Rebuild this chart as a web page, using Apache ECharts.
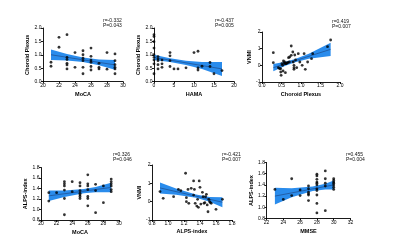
<!DOCTYPE html>
<html>
<head>
<meta charset="utf-8">
<script src="https://cdn.jsdelivr.net/npm/echarts@6/dist/echarts.min.js"></script>
<style>
  html, body { margin: 0; padding: 0; background: #fff; }
  #chart { width: 400px; height: 249px; }
</style>
</head>
<body>
<div id="chart"></div>
<script>
// ---- panel 1: MoCA / Choroid Plexus ----
var p1X = [21,21,22,22,23,23,23,23,23,23,24,24,25,25,25,25,25,25,26,26,26,26,26,26,27,27,27,28,28,29,29,29,29,29,29];
var p1Y = [0.72,0.57,1.65,1.28,1.75,0.9,0.82,0.68,0.62,0.47,1.08,0.53,1.15,1.0,0.87,0.78,0.53,0.29,1.25,0.94,0.8,0.72,0.56,0.43,0.68,0.53,0.47,1.08,0.46,1.03,0.78,0.63,0.53,0.47,0.29];
var p1BandX = [21,23,25,27,29];
var p1BandLow = [0.80,0.785,0.725,0.605,0.44];
var p1BandHigh = [1.20,1.025,0.895,0.825,0.80];
var p1FitX = [21,29];
var p1FitY = [1.0,0.62];

// ---- panel 2: HAMA / Choroid Plexus ----
var p2X = [0,0,0,0,0,0,0,0,0,1,1,1,1,1,2,2,2,4,4,4,4,5,6,8,10,11,11,11,12,14,14,15,17];
var p2Y = [1.75,1.68,1.49,1.25,1.0,0.9,0.8,0.66,0.29,0.93,0.84,0.78,0.63,0.47,0.8,0.66,0.53,1.08,0.96,0.78,0.56,0.47,0.47,0.51,1.08,1.13,0.51,0.43,0.57,0.71,0.56,0.29,0.41];
var p2BandX = [0,4,8,12,17];
var p2BandLow = [0.80,0.73,0.62,0.47,0.21];
var p2BandHigh = [1.00,0.87,0.78,0.73,0.73];
var p2FitX = [0,17];
var p2FitY = [0.9,0.47];

// ---- panel 3: Choroid Plexus / VNMI ----
var p3X = [0.29,0.29,0.42,0.45,0.48,0.48,0.49,0.51,0.53,0.54,0.55,0.57,0.58,0.6,0.6,0.62,0.64,0.66,0.68,0.7,0.71,0.75,0.75,0.79,0.8,0.82,0.82,0.82,0.84,0.86,0.89,0.93,0.97,1.03,1.08,1.11,1.17,1.27,1.3,1.68,1.76];
var p3Y = [0.76,0.16,-0.14,-0.2,-0.2,-0.4,-0.6,0.1,0.0,-0.34,0.26,0.12,0.2,-0.44,0.1,0.1,0.14,0.16,0.46,0.2,0.5,1.16,0.6,0.8,0.2,0.0,-0.14,-0.24,0.62,0.32,-0.14,0.7,0.2,0.0,0.7,-0.24,0.2,0.4,0.7,1.12,1.52];
var p3BandX = [0.29,0.6,0.85,1.2,1.76];
var p3BandLow = [-0.36,-0.03,0.18,0.39,0.56];
var p3BandHigh = [0.08,0.21,0.38,0.69,1.36];
var p3FitX = [0.29,1.76];
var p3FitY = [-0.14,0.96];

// ---- panel 4: MoCA / ALPS-index ----
var p4X = [21,21,22,23,23,23,23,23,23,24,24,25,25,25,25,25,25,25,26,26,26,26,26,26,26,27,27,27,28,28,29,29,29,29,29,29];
var p4Y = [1.32,1.16,1.32,1.53,1.49,1.45,1.37,1.21,0.9,1.53,1.34,1.51,1.45,1.36,1.31,1.28,1.25,1.21,1.66,1.49,1.45,1.38,1.25,1.21,1.07,1.48,1.36,0.94,1.45,1.13,1.58,1.53,1.49,1.45,1.38,1.34];
var p4BandX = [21,23,25.5,27,29];
var p4BandLow = [1.16,1.24,1.31,1.33,1.33];
var p4BandHigh = [1.36,1.36,1.39,1.43,1.51];
var p4FitX = [21,29];
var p4FitY = [1.26,1.42];

// ---- panel 5: ALPS-index / VNMI ----
var p5X = [0.9,0.94,1.07,1.13,1.16,1.22,1.23,1.23,1.25,1.26,1.29,1.32,1.32,1.33,1.34,1.36,1.37,1.39,1.38,1.4,1.41,1.43,1.44,1.45,1.46,1.47,1.48,1.49,1.5,1.51,1.52,1.53,1.54,1.6,1.68];
var p5Y = [0.55,0.18,0.27,0.67,0.6,1.55,0.22,0.0,0.67,-0.09,0.73,1.13,0.36,0.67,-0.09,-0.24,0.13,1.13,-0.31,0.78,-0.13,0.51,0.27,-0.09,-0.05,0.27,0.4,-0.18,-0.55,0.13,0.0,-0.05,-0.09,-0.42,0.13];
var p5BandX = [0.9,1.1,1.35,1.52,1.68];
var p5BandLow = [0.45,0.38,0.21,0.0,-0.30];
var p5BandHigh = [1.05,0.72,0.39,0.26,0.24];
var p5FitX = [0.9,1.68];
var p5FitY = [0.75,-0.03];

// ---- panel 6: MMSE / ALPS-index ----
var p6X = [23,24,25,25,26,26,27,27,27,27,27,27,28,28,28,28,28,28,28,28,28,28,28,29,29,29,29,29,30,30,30,30,30,30,30];
var p6Y = [1.32,1.14,1.51,1.21,1.31,1.21,1.38,1.33,1.27,1.24,1.22,1.12,1.59,1.56,1.5,1.45,1.43,1.4,1.33,1.3,1.22,1.07,0.9,1.65,1.51,1.43,1.38,0.94,1.51,1.48,1.45,1.43,1.4,1.36,1.32];
var p6BandX = [23,25,27.5,29,30];
var p6BandLow = [1.05,1.18,1.29,1.32,1.32];
var p6BandHigh = [1.35,1.34,1.37,1.42,1.48];
var p6FitX = [23,30];
var p6FitY = [1.2,1.4];

var statR = ['r=-0.332', 'r=-0.437', 'r=0.419', 'r=0.326', 'r=-0.421', 'r=0.455'];
var statP = ['P=0.043', 'P=0.005', 'P=0.007', 'P=0.046', 'P=0.007', 'P=0.004'];
var xNames = ['MoCA', 'HAMA', 'Choroid Plexus', 'MoCA', 'ALPS-index', 'MMSE'];
var yNames = ['Choroid Plexus', 'Choroid Plexus', 'VNMI', 'ALPS-index', 'VNMI', 'ALPS-index'];

var font = 'Liberation Sans, Arial, sans-serif';
var bandColor = '#2a8cec';
var fitColor = '#1d3f78';

var panels = [
  {x: p1X, y: p1Y, bx: p1BandX, lo: p1BandLow, hi: p1BandHigh, fx: p1FitX, fy: p1FitY,
   grid: {left: 43, top: 28, width: 80, height: 53.5}, xr: [20, 30, 2, 0], yr: [0, 2, 0.5, 1], yGap: 10, xGap: 9.5, stat: [103, 18.5]},
  {x: p2X, y: p2Y, bx: p2BandX, lo: p2BandLow, hi: p2BandHigh, fx: p2FitX, fy: p2FitY,
   grid: {left: 154, top: 28, width: 80, height: 53.5}, xr: [0, 20, 5, 0], yr: [0, 2, 0.5, 1], yGap: 7.5, xGap: 9.5, stat: [215, 18.5]},
  {x: p3X, y: p3Y, bx: p3BandX, lo: p3BandLow, hi: p3BandHigh, fx: p3FitX, fy: p3FitY,
   grid: {left: 262, top: 32, width: 78, height: 50}, xr: [0, 2, 0.5, 1], yr: [-1, 2, 1, 0], yGap: 8, xGap: 9, stat: [332, 19]},
  {x: p4X, y: p4Y, bx: p4BandX, lo: p4BandLow, hi: p4BandHigh, fx: p4FitX, fy: p4FitY,
   grid: {left: 41, top: 167.5, width: 78, height: 52.5}, xr: [20, 30, 2, 0], yr: [0.8, 1.8, 0.2, 1], yGap: 9, xGap: 9.5, stat: [113, 152.5]},
  {x: p5X, y: p5Y, bx: p5BandX, lo: p5BandLow, hi: p5BandHigh, fx: p5FitX, fy: p5FitY,
   grid: {left: 152, top: 165, width: 80, height: 55}, xr: [0.8, 1.8, 0.2, 1], yr: [-1, 2, 1, 0], yGap: 7, xGap: 8.5, stat: [222, 152]},
  {x: p6X, y: p6Y, bx: p6BandX, lo: p6BandLow, hi: p6BandHigh, fx: p6FitX, fy: p6FitY,
   grid: {left: 266.5, top: 162.5, width: 84, height: 56}, xr: [22, 32, 2, 0], yr: [0.8, 1.8, 0.2, 1], yGap: 7, xGap: 10, stat: [346, 152]}
];

function zip(a, b) {
  var out = [];
  for (var i = 0; i < a.length; i++) out.push([a[i], b[i]]);
  return out;
}

function axis(range, name, gap) {
  var dec = range[3];
  return {
    type: 'value',
    min: range[0], max: range[1], interval: range[2],
    name: name, nameLocation: 'middle', nameGap: gap,
    nameTextStyle: {fontSize: 5.5, fontWeight: 'bold', fontFamily: font, color: '#000'},
    axisLine: {show: true, onZero: false, lineStyle: {color: '#000', width: 0.9}},
    axisTick: {show: true, length: 2, lineStyle: {color: '#000', width: 0.9}},
    axisLabel: {fontSize: 5, fontFamily: font, color: '#000', margin: 1.5,
      formatter: function (v) { return (+v).toFixed(dec); }},
    splitLine: {show: false}
  };
}

var grids = [], xAxes = [], yAxes = [], series = [], graphics = [];

panels.forEach(function (p, i) {
  grids.push(p.grid);
  xAxes.push(Object.assign(axis(p.xr, xNames[i], p.xGap), {gridIndex: i}));
  yAxes.push(Object.assign(axis(p.yr, yNames[i], p.yGap), {gridIndex: i}));

  // 置信带
  series.push({
    type: 'custom', xAxisIndex: i, yAxisIndex: i, z: 1, silent: true,
    data: [[p.bx[0], p.lo[0]]],
    renderItem: function (params, api) {
      var pts = [];
      for (var k = 0; k < p.bx.length; k++) pts.push(api.coord([p.bx[k], p.hi[k]]));
      for (var k = p.bx.length - 1; k >= 0; k--) pts.push(api.coord([p.bx[k], p.lo[k]]));
      return {type: 'polygon', shape: {points: pts}, style: {fill: bandColor}};
    }
  });

  // 回归线
  series.push({
    type: 'line', xAxisIndex: i, yAxisIndex: i, z: 3, silent: true,
    symbol: 'none', data: zip(p.fx, p.fy),
    lineStyle: {color: fitColor, width: 0.6}
  });

  // 散点
  series.push({
    type: 'scatter', xAxisIndex: i, yAxisIndex: i, z: 4,
    symbol: 'circle', symbolSize: 2.8,
    itemStyle: {color: '#000'},
    data: zip(p.x, p.y)
  });

  graphics.push({
    type: 'text', left: p.stat[0], top: p.stat[1],
    style: {text: statR[i] + '\n' + statP[i], font: '5px ' + font, fill: '#111', lineHeight: 5}
  });
});

var chart = echarts.init(document.getElementById('chart'));
chart.setOption({
  backgroundColor: '#fff',
  animation: false,
  grid: grids,
  xAxis: xAxes,
  yAxis: yAxes,
  series: series,
  graphic: graphics
});
</script>
</body>
</html>
